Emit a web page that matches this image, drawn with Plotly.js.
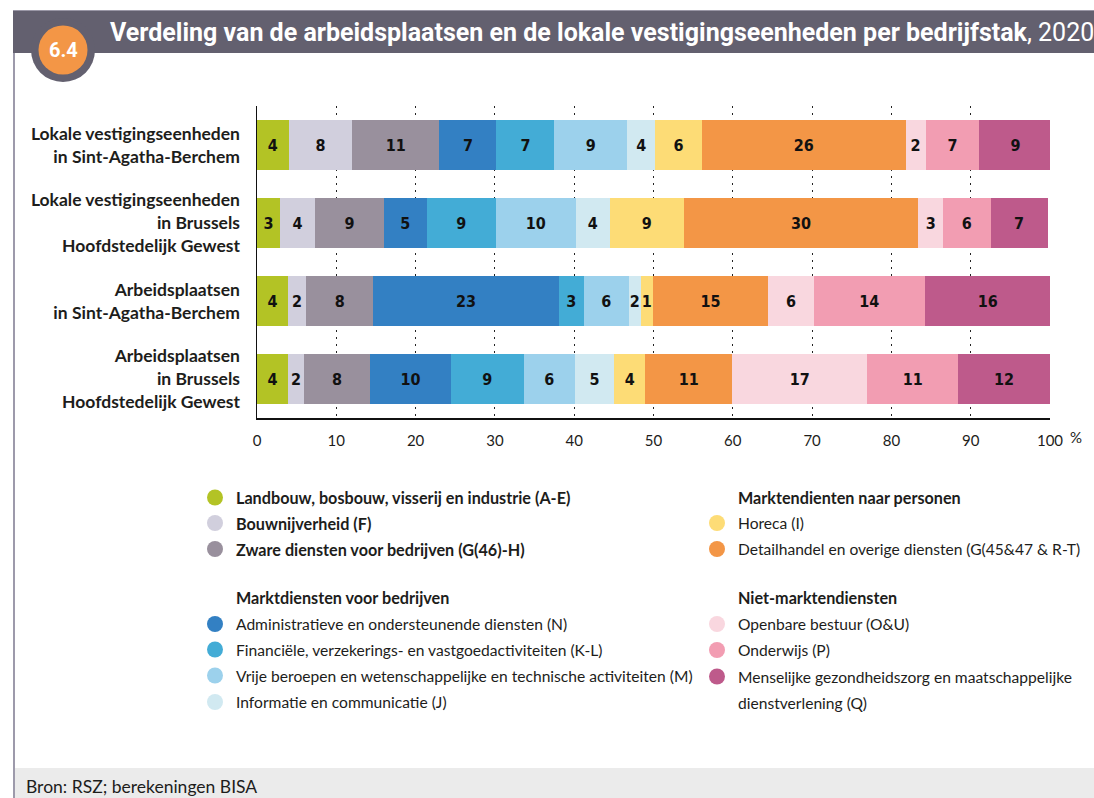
<!DOCTYPE html>
<html>
<head>
<meta charset="utf-8">
<script src="https://cdn.plot.ly/plotly-3.0.1.min.js"></script>
<style>
  html, body { margin: 0; padding: 0; background: #ffffff; }
  #chart { width: 1094px; height: 798px; }
</style>
</head>
<body>
<div id="chart"></div>
<script>
// ---------- DATA ----------
const categories = [
  'Lokale vestigingseenheden<br>in Sint-Agatha-Berchem',
  'Lokale vestigingseenheden<br>in Brussels<br>Hoofdstedelijk Gewest',
  'Arbeidsplaatsen<br>in Sint-Agatha-Berchem',
  'Arbeidsplaatsen<br>in Brussels<br>Hoofdstedelijk Gewest'
];

const sectorNames = [
  'Landbouw, bosbouw, visserij en industrie (A-E)',
  'Bouwnijverheid (F)',
  'Zware diensten voor bedrijven (G(46)-H)',
  'Administratieve en ondersteunende diensten (N)',
  'Financiële, verzekerings- en vastgoedactiviteiten (K-L)',
  'Vrije beroepen en wetenschappelijke en technische activiteiten (M)',
  'Informatie en communicatie (J)',
  'Horeca (I)',
  'Detailhandel en overige diensten (G(45&47 & R-T)',
  'Openbare bestuur (O&U)',
  'Onderwijs (P)',
  'Menselijke gezondheidszorg en maatschappelijke dienstverlening (Q)'
];

const sectorColors = [
  '#b3c325', '#d1cfdd', '#99909d', '#3380c3', '#43acd6', '#9cd1ec',
  '#d1e9f1', '#fddc76', '#f39646', '#f9d7df', '#f29db2', '#be5a8b'
];

// shares (%) per sector, in category order
const landbouw   = [4.0, 2.9, 3.9, 3.9];
const bouw       = [8.0, 4.4, 2.3, 2.05];
const zware      = [11.0, 8.7, 8.45, 8.3];
const admin      = [7.2, 5.4, 23.4, 10.2];
const financieel = [7.3, 8.7, 3.15, 9.2];
const vrije      = [9.2, 10.1, 5.7, 6.4];
const informatie = [3.5, 4.3, 1.5, 5.0];
const horeca     = [5.9, 9.3, 1.5, 3.9];
const detail     = [25.7, 29.6, 14.6, 11.0];
const openbaar   = [2.5, 3.1, 5.7, 17.0];
const onderwijs  = [6.8, 6.0, 14.0, 11.5];
const menselijk  = [9.1, 7.2, 15.9, 11.5];

// printed (rounded) labels per sector
const landbouwLbl   = ['4', '3', '4', '4'];
const bouwLbl       = ['8', '4', '2', '2'];
const zwareLbl      = ['11', '9', '8', '8'];
const adminLbl      = ['7', '5', '23', '10'];
const financieelLbl = ['7', '9', '3', '9'];
const vrijeLbl      = ['9', '10', '6', '6'];
const informatieLbl = ['4', '4', '2', '5'];
const horecaLbl     = ['6', '9', '1', '4'];
const detailLbl     = ['26', '30', '15', '11'];
const openbaarLbl   = ['2', '3', '6', '17'];
const onderwijsLbl  = ['7', '6', '14', '11'];
const menselijkLbl  = ['9', '7', '16', '12'];

const xTicks = [0, 10, 20, 30, 40, 50, 60, 70, 80, 90, 100];

const groupTitles = ['Marktdiensten voor bedrijven', 'Marktendienten naar personen', 'Niet-marktendiensten'];

const titleText = 'Verdeling van de arbeidsplaatsen en de lokale vestigingseenheden per bedrijfstak';
const titleYear = '2020';
const chapterNo = '6.4';
const sourceText = 'Bron: RSZ; berekeningen BISA';

const seriesValues = [landbouw, bouw, zware, admin, financieel, vrije, informatie, horeca, detail, openbaar, onderwijs, menselijk];
const seriesLabels = [landbouwLbl, bouwLbl, zwareLbl, adminLbl, financieelLbl, vrijeLbl, informatieLbl, horecaLbl, detailLbl, openbaarLbl, onderwijsLbl, menselijkLbl];

// ---------- GEOMETRY (pixels) ----------
const W = 1094, H = 798;
const M = { l: 257, r: 44, t: 106, b: 380 };
const PW = W - M.l - M.r, PH = H - M.t - M.b;
const px = x => (x - M.l) / PW;
const py = y => (H - M.b - y) / PH;

const labelFont = 'Liberation Sans Narrow, DejaVu Sans Condensed, Arial Narrow, sans-serif';
const textFont = 'Lato, Open Sans, sans-serif';
const ink = '#1d1d1b';

// ---------- TRACES ----------
const traces = seriesValues.map((vals, i) => ({
  type: 'bar',
  orientation: 'h',
  name: sectorNames[i],
  y: categories,
  x: vals,
  text: seriesLabels[i],
  textposition: 'inside',
  insidetextanchor: 'middle',
  textangle: 0,
  constraintext: 'none',
  textfont: { family: labelFont, size: 16, color: '#111111', weight: 'bold' },
  marker: { color: sectorColors[i], line: { width: 0 } },
  hoverinfo: 'skip',
  showlegend: false
}));

// ---------- SHAPES & ANNOTATIONS ----------
const shapes = [];
const annotations = [];

// header band
shapes.push({ type: 'rect', xref: 'paper', yref: 'paper', layer: 'above',
  x0: px(13), x1: px(1094), y0: py(53), y1: py(10),
  fillcolor: '#63606f', line: { width: 0 } });
shapes.push({ type: 'line', xref: 'paper', yref: 'paper', layer: 'above',
  x0: px(13), x1: px(1094), y0: py(10.5), y1: py(10.5),
  line: { color: '#9a97a6', width: 1 } });
// left frame line
shapes.push({ type: 'line', xref: 'paper', yref: 'paper', layer: 'above',
  x0: px(14), x1: px(14), y0: py(53), y1: py(798),
  line: { color: '#9d9aab', width: 2 } });
// footer band
shapes.push({ type: 'rect', xref: 'paper', yref: 'paper', layer: 'above',
  x0: px(15), x1: px(1094), y0: py(798), y1: py(768),
  fillcolor: '#ebebeb', line: { width: 0 } });
// badge ring + orange disc
shapes.push({ type: 'circle', xref: 'paper', yref: 'paper', layer: 'above',
  x0: px(31), x1: px(95), y0: py(82), y1: py(18),
  fillcolor: '#63606f', line: { width: 0 } });
shapes.push({ type: 'circle', xref: 'paper', yref: 'paper', layer: 'above',
  x0: px(38.5), x1: px(87.5), y0: py(74.5), y1: py(25.5),
  fillcolor: '#f39646', line: { width: 0 } });
annotations.push({ xref: 'paper', yref: 'paper', x: px(63), y: py(50),
  xanchor: 'center', yanchor: 'middle', showarrow: false,
  text: '<b>' + chapterNo + '</b>',
  font: { family: 'Roboto, sans-serif', size: 20, color: '#ffffff' } });

// % after the last tick
annotations.push({ xref: 'paper', yref: 'paper', x: px(1068), y: py(437),
  xanchor: 'left', yanchor: 'middle', showarrow: false, text: '%',
  font: { family: textFont, size: 15, color: ink } });

// source
annotations.push({ xref: 'paper', yref: 'paper', x: px(24), y: py(786),
  xanchor: 'left', yanchor: 'middle', showarrow: false, text: sourceText,
  font: { family: textFont, size: 17.5, color: ink } });

// legend (layout positions)
const leftDotX = 215, leftTextX = 234, rightDotX = 717, rightTextX = 736;
const legendRows = [
  { s: 0, col: 'L', y: 497.5, bold: true },
  { s: 1, col: 'L', y: 523, bold: true },
  { s: 2, col: 'L', y: 549, bold: true },
  { h: 0, col: 'L', y: 597.5 },
  { s: 3, col: 'L', y: 624 },
  { s: 4, col: 'L', y: 649.5 },
  { s: 5, col: 'L', y: 675.5 },
  { s: 6, col: 'L', y: 702 },
  { h: 1, col: 'R', y: 497 },
  { s: 7, col: 'R', y: 523 },
  { s: 8, col: 'R', y: 549 },
  { h: 2, col: 'R', y: 597 },
  { s: 9, col: 'R', y: 624 },
  { s: 10, col: 'R', y: 650 },
  { s: 11, col: 'R', y: 676.5, wrap: true }
];
const R = 8;
const legendBoldSize = 16.2;
const legendSize = 15.6;
legendRows.forEach(row => {
  const tx = row.col === 'L' ? leftTextX : rightTextX;
  const dx = row.col === 'L' ? leftDotX : rightDotX;
  if (row.h !== undefined) {
    annotations.push({ xref: 'paper', yref: 'paper', x: px(tx), y: py(row.y),
      xanchor: 'left', yanchor: 'middle', showarrow: false,
      text: '<b>' + groupTitles[row.h] + '</b>',
      font: { family: textFont, size: legendBoldSize, color: ink } });
    return;
  }
  shapes.push({ type: 'circle', xref: 'paper', yref: 'paper', layer: 'above',
    x0: px(dx - R), x1: px(dx + R), y0: py(row.y + R), y1: py(row.y - R),
    fillcolor: sectorColors[row.s], line: { width: 0 } });
  let name = sectorNames[row.s];
  let lines = [name];
  if (row.wrap) {
    const cut = name.lastIndexOf(' dienstverlening');
    lines = [name.slice(0, cut), name.slice(cut + 1)];
  }
  lines.forEach((ln, k) => {
    annotations.push({ xref: 'paper', yref: 'paper', x: px(tx), y: py(row.y + k * 26.5),
      xanchor: 'left', yanchor: 'middle', showarrow: false,
      text: row.bold ? '<b>' + ln + '</b>' : ln,
      font: { family: textFont, size: row.bold ? legendBoldSize : legendSize, color: ink } });
  });
});

// ---------- LAYOUT ----------
const layout = {
  width: W, height: H,
  margin: M,
  paper_bgcolor: '#ffffff',
  plot_bgcolor: '#ffffff',
  barmode: 'stack',
  bargap: 0.36,
  showlegend: false,
  title: {
    text: '<b>' + titleText + '</b>, ' + titleYear,
    x: 110 / W, xanchor: 'left', xref: 'container',
    y: 1 - 32 / H, yanchor: 'middle', yref: 'container',
    font: { family: 'Roboto, sans-serif', size: 25, color: '#ffffff' }
  },
  xaxis: {
    range: [0, 100],
    tickvals: xTicks,
    ticktext: xTicks.map(String),
    showgrid: true, gridcolor: '#222222', griddash: '2px,5px', gridwidth: 1,
    zeroline: false,
    showline: true, linecolor: '#111111', linewidth: 1.5,
    ticks: '', ticklabelstandoff: 8,
    tickfont: { family: textFont, size: 15, color: ink },
    fixedrange: true
  },
  yaxis: {
    autorange: 'reversed',
    type: 'category',
    showgrid: false, zeroline: false,
    showline: true, linecolor: '#111111', linewidth: 1.5,
    ticks: '', ticklabelstandoff: 12,
    tickfont: { family: textFont, size: 17.5, color: ink, weight: 'bold' },
    fixedrange: true
  },
  shapes: shapes,
  annotations: annotations
};

Plotly.newPlot('chart', traces, layout, { staticPlot: true, displayModeBar: false });
</script>
</body>
</html>
